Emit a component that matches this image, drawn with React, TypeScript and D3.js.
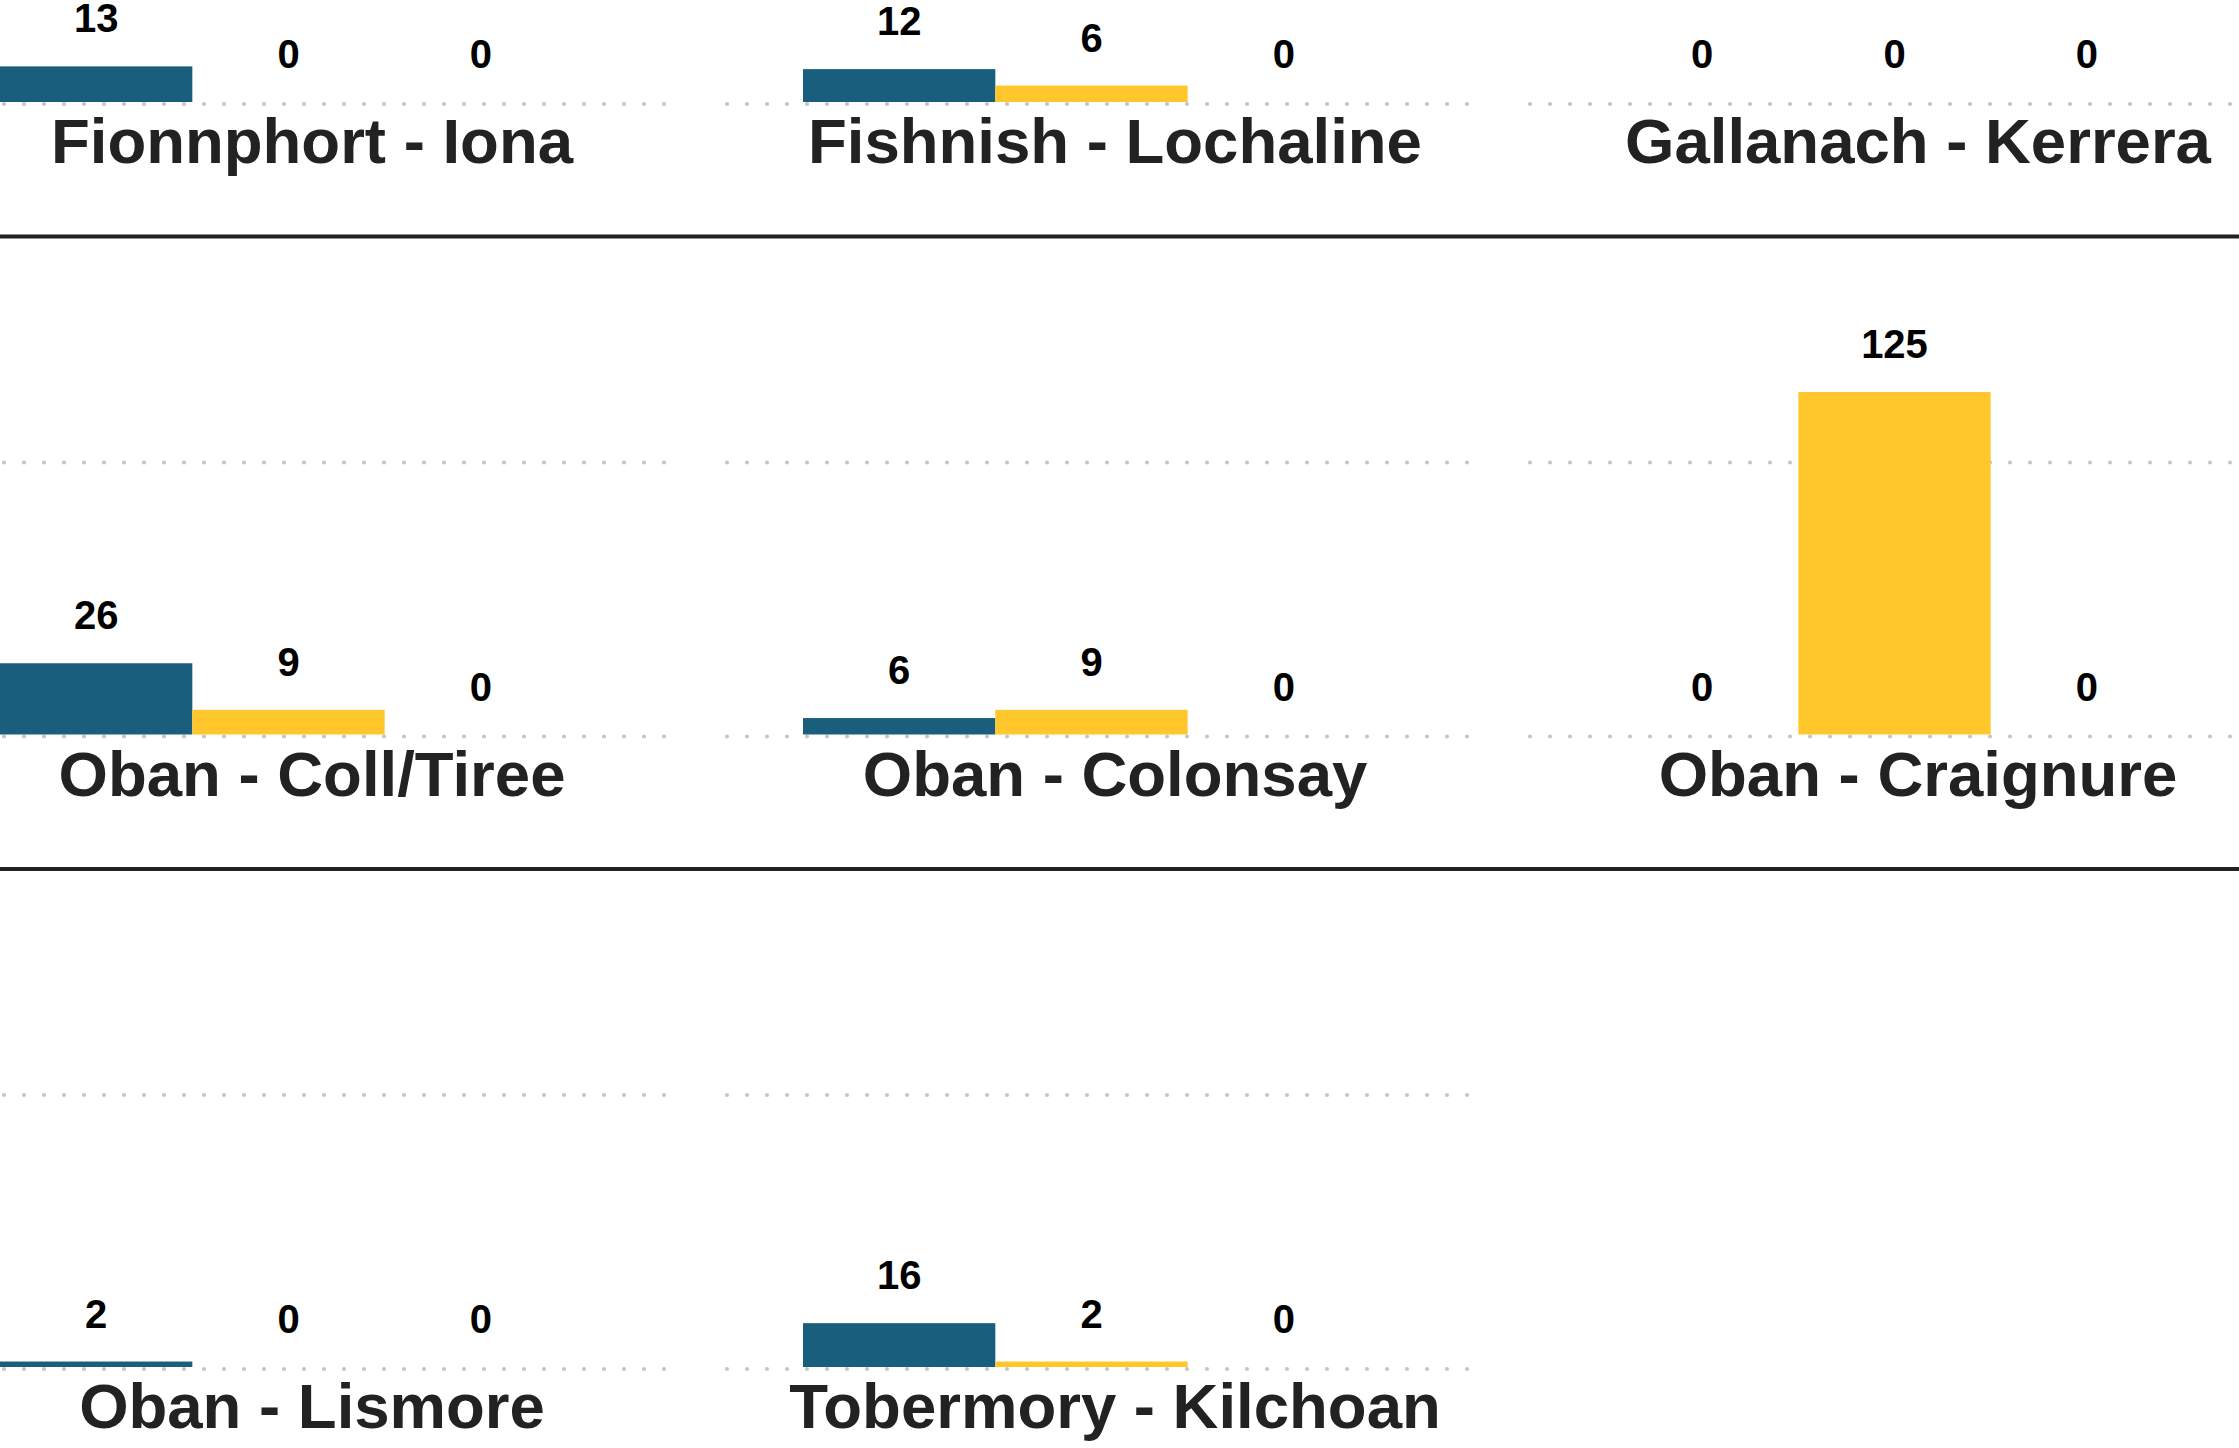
import React from "react";
import * as d3 from "d3";

// ---- data ----
const routes = [
  "Fionnphort - Iona",
  "Fishnish - Lochaline",
  "Gallanach - Kerrera",
  "Oban - Coll/Tiree",
  "Oban - Colonsay",
  "Oban - Craignure",
  "Oban - Lismore",
  "Tobermory - Kilchoan",
];
const seriesNames = ["Series 1", "Series 2", "Series 3"];
const series1 = [13, 12, 0, 26, 6, 0, 2, 16];
const series2 = [0, 6, 0, 9, 9, 125, 0, 2];
const series3 = [0, 0, 0, 0, 0, 0, 0, 0];
const gridValues = [0, 100];

const seriesValues = [series1, series2, series3];
const colors = ["#1a5e7d", "#ffc72c", "#9e9e9e"];

const W = 2239;
const H = 1448;
const COL_STEP = 803;
const ROW_STEP = 632.5;
const PANEL_W = 742;
const FIRST_LEFT = -76;
const FIRST_BASE = 102;
const FONT = "'Liberation Sans', Arial, Helvetica, sans-serif";

export default function App() {
  const y = d3.scaleLinear().domain([0, 100]).range([0, 274]);
  return (
    <svg
      width={W}
      height={H}
      style={{ position: "absolute", left: 0, top: 0, background: "#fff" }}
    >
      <rect x={0} y={0} width={W} height={H} fill="#fff" />
      {[0, 1].map((r) => (
        <line
          key={"sep" + r}
          x1={0}
          x2={W}
          y1={236.5 + r * ROW_STEP}
          y2={236.5 + r * ROW_STEP}
          stroke="#222222"
          strokeWidth={4}
        />
      ))}
      {routes.map((route, i) => {
        const col = i % 3;
        const row = Math.floor(i / 3);
        const L = FIRST_LEFT + col * COL_STEP;
        const base = FIRST_BASE + row * ROW_STEP;
        const x = d3
          .scaleBand()
          .domain(seriesNames)
          .range([L + 76, L + 76 + 577])
          .padding(0);
        return (
          <g key={route}>
            {gridValues.map((g) => (
              <line
                key={g}
                x1={L}
                x2={L + PANEL_W}
                y1={base - y(g) + 2}
                y2={base - y(g) + 2}
                stroke="#c6c6c6"
                strokeWidth={4.2}
                strokeDasharray="0 20"
                strokeLinecap="round"
              />
            ))}
            {seriesNames.map((s, k) => {
              const v = seriesValues[k][i];
              return (
                <rect
                  key={s}
                  x={x(s)}
                  y={base - y(v)}
                  width={x.bandwidth()}
                  height={y(v)}
                  fill={colors[k]}
                />
              );
            })}
            {seriesNames.map((s, k) => {
              const v = seriesValues[k][i];
              return (
                <text
                  key={"l" + s}
                  x={(x(s) as number) + x.bandwidth() / 2}
                  y={base - y(v) - 34}
                  textAnchor="middle"
                  fontFamily={FONT}
                  fontWeight="bold"
                  fontSize={40}
                  fill="#000"
                >
                  {v}
                </text>
              );
            })}
            <text
              x={L + 388}
              y={base + 61}
              textAnchor="middle"
              fontFamily={FONT}
              fontWeight="bold"
              fontSize={63.5}
              fill="#222222"
            >
              {route}
            </text>
          </g>
        );
      })}
    </svg>
  );
}
